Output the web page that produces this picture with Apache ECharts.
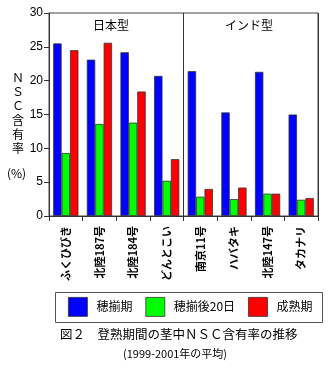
<!DOCTYPE html>
<html><head><meta charset="utf-8">
<script src="https://cdn.jsdelivr.net/npm/echarts@6/dist/echarts.min.js"></script>
<style>html,body{margin:0;padding:0;background:#fff}#c{width:333px;height:371px}</style>
</head><body><div id="c"></div>
<script>
const categories = ['ふくひびき','北陸187号','北陸184号','どんとこい','南京11号','ハバタキ','北陸147号','タカナリ'];
const seriesNames = ['穂揃期','穂揃後20日','成熟期'];
const heading = [25.5, 23.1, 24.2, 20.7, 21.4, 15.3, 21.3, 15.0];
const after20 = [9.3, 13.6, 13.8, 5.2, 2.85, 2.5, 3.3, 2.4];
const maturity = [24.5, 25.6, 18.4, 8.4, 4.0, 4.2, 3.3, 2.65];
const groupLabels = ['日本型','インド型'];
const groupSplit = 4;
const yAxisName = 'ＮＳＣ含有率';
const titleText = '図２　登熟期間の茎中ＮＳＣ含有率の推移';
const subtitleText = '(1999-2001年の平均)';

const font = '"Noto Sans CJK JP", "Liberation Sans", sans-serif';
const chart = echarts.init(document.getElementById('c'));
const barStyle = c => ({color: c, borderColor: '#333', borderWidth: 0.8});
chart.setOption({
  animation: false,
  textStyle: {fontFamily: font},
  grid: {left: 49, right: 15, top: 13, bottom: 155, show: true, borderColor: '#444', borderWidth: 1},
  legend: {
    data: seriesNames, left: 68, top: 292,
    itemWidth: 19, itemHeight: 19, itemGap: 13,
    padding: [5, 0, 5, 0],
    textStyle: {fontSize: 12, color: '#000', fontFamily: font, padding: [0, 0, 0, 4]},
    icon: 'rect',
    itemStyle: {borderColor: '#333', borderWidth: 0.8}
  },
  title: [
    {text: titleText, left: 55, top: 323, textStyle: {fontSize: 12.5, fontWeight: 'normal', color: '#000', fontFamily: font}},
    {text: subtitleText, left: 118, top: 343, textStyle: {fontSize: 11, fontWeight: 'normal', color: '#000', fontFamily: font}}
  ],
  xAxis: [{
    type: 'category', data: categories,
    axisLine: {lineStyle: {color: '#333'}},
    axisTick: {show: true, length: 5, lineStyle: {color: '#333'}},
    axisLabel: {rotate: 90, fontSize: 11, fontWeight: 'bold', color: '#000', margin: 10, fontFamily: font},
    splitLine: {show: false}
  }, {
    type: 'value', min: 0, max: categories.length, interval: groupSplit, position: 'top',
    axisLine: {show: false}, axisTick: {show: false}, axisLabel: {show: false},
    splitLine: {show: true, lineStyle: {color: '#333', width: 1}}
  }],
  yAxis: {
    type: 'value', min: 0, max: 30, interval: 5,
    axisLine: {show: true, lineStyle: {color: '#333'}},
    axisTick: {show: true, length: 5, lineStyle: {color: '#333'}},
    axisLabel: {fontSize: 12, color: '#000', margin: 6, fontFamily: '"Liberation Sans Narrow","Liberation Sans", sans-serif'},
    splitLine: {show: false}
  },
  graphic: [
    {type: 'rect', shape: {x: 55.5, y: 292.5, width: 267, height: 30}, style: {fill: 'none', stroke: '#555', lineWidth: 1}},
    {type: 'text', left: 93, top: 19, style: {text: groupLabels[0], fontSize: 12, fill: '#000', fontFamily: font}},
    {type: 'text', left: 225, top: 19, style: {text: groupLabels[1], fontSize: 12, fill: '#000', fontFamily: font}},
    {type: 'text', left: 12, top: 70, style: {text: yAxisName.split('').join('\n'), fontSize: 12, lineHeight: 14.3, fill: '#000', align: 'center', fontFamily: font}},
    {type: 'text', left: 7, top: 167, style: {text: '(%)', fontSize: 12, fill: '#000', fontFamily: font}}
  ],
  series: [
    {name: seriesNames[0], type: 'bar', data: heading, barGap: 0, barCategoryGap: '25%', itemStyle: barStyle('#0000ff')},
    {name: seriesNames[1], type: 'bar', data: after20, barGap: 0, barCategoryGap: '25%', itemStyle: barStyle('#00ff00')},
    {name: seriesNames[2], type: 'bar', data: maturity, barGap: 0, barCategoryGap: '25%', itemStyle: barStyle('#ff0000')}
  ]
});
</script></body></html>
